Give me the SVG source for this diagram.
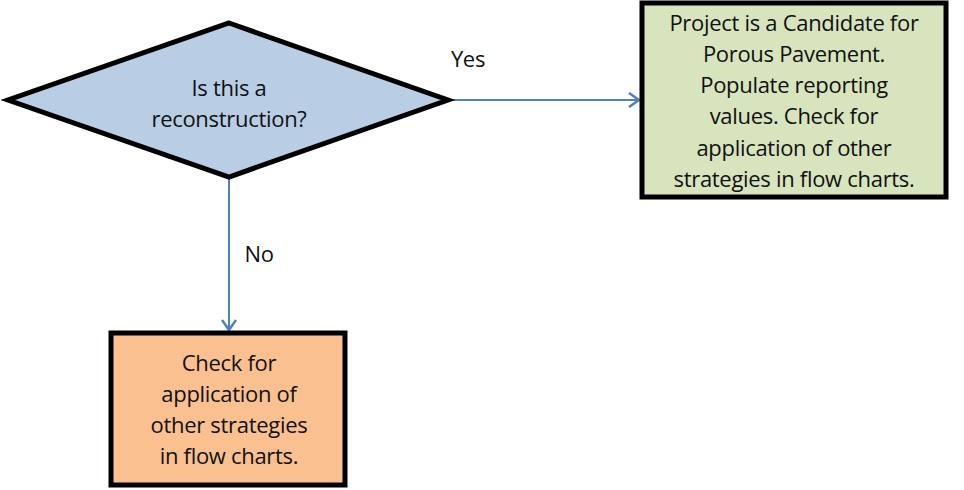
<svg xmlns="http://www.w3.org/2000/svg" width="964" height="490" viewBox="0 0 964 490">
<style>
text{font-family:"Open Sans","Liberation Sans",sans-serif;font-size:22px;fill:#111;text-anchor:middle;letter-spacing:-0.3px}
.shape{stroke:#000;stroke-width:5;stroke-linejoin:miter}
.conn{stroke:#4f81bd;stroke-width:2;fill:none}
</style>
<defs>
<marker id="arr" markerWidth="16" markerHeight="16" refX="12" refY="8" orient="auto" markerUnits="userSpaceOnUse">
<path d="M2,1 L12,8 L2,15" fill="none" stroke="#4f81bd" stroke-width="2.5"/>
</marker>
</defs>
<rect width="964" height="490" fill="#fff"/>
<g id="connectors">
<line class="conn" x1="448" y1="100" x2="639" y2="100" marker-end="url(#arr)"/>
<line class="conn" x1="229" y1="177" x2="229" y2="330" marker-end="url(#arr)"/>
<text x="468" y="67">Yes</text>
<text x="259" y="262">No</text>
</g>
<g id="decision">
<polygon class="shape" points="229,23 448,100 229,177 8,100" fill="#b9cde5"/>
<text x="229" y="96">Is this a</text>
<text x="229" y="127">reconstruction?</text>
</g>
<g id="yes-box">
<rect class="shape" x="642" y="3" width="304" height="194" fill="#d7e4bd"/>
<text x="794" y="31">Project is a Candidate for</text>
<text x="794" y="62">Porous Pavement.</text>
<text x="794" y="93">Populate reporting</text>
<text x="794" y="124">values. Check for</text>
<text x="794" y="156">application of other</text>
<text x="794" y="187">strategies in flow charts.</text>
</g>
<g id="no-box">
<rect class="shape" x="111" y="333" width="234" height="152" fill="#fac090"/>
<text x="229" y="371">Check for</text>
<text x="229" y="402">application of</text>
<text x="229" y="433">other strategies</text>
<text x="229" y="464">in flow charts.</text>
</g>
</svg>
